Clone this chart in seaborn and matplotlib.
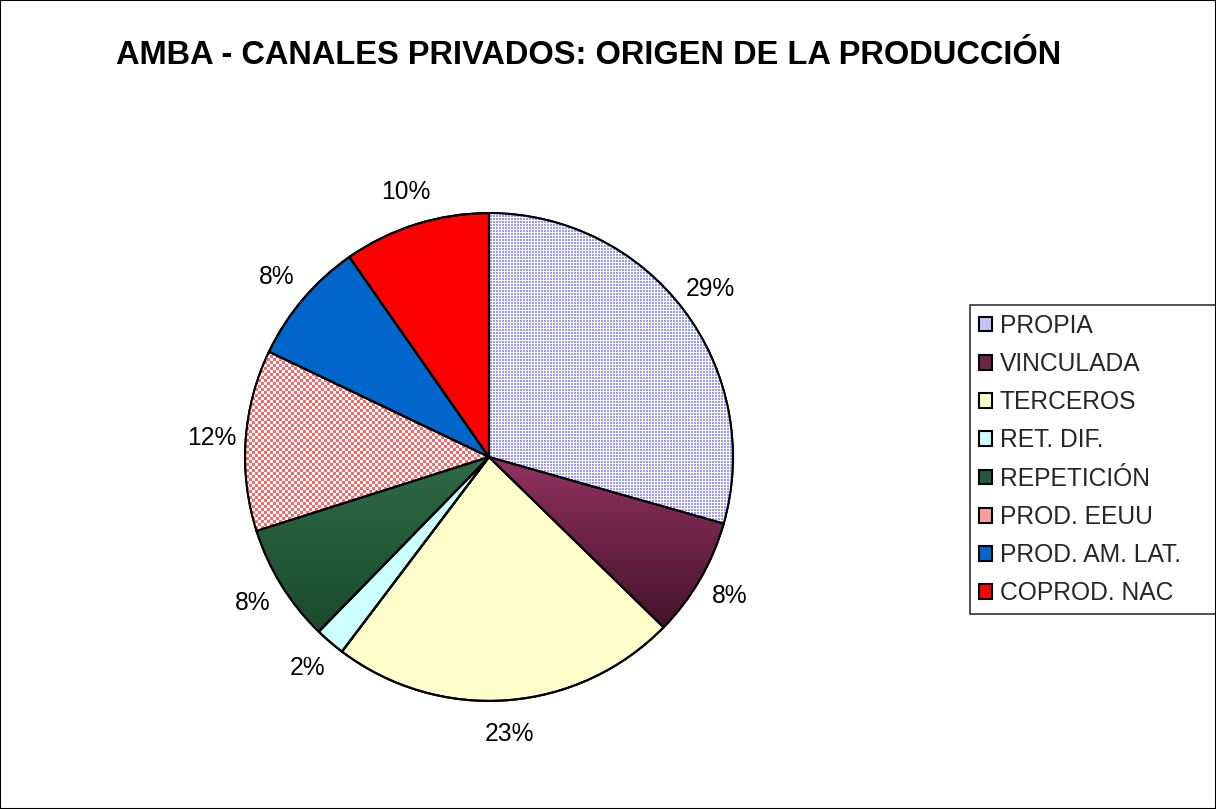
import numpy as np
import matplotlib
matplotlib.use('Agg')
import matplotlib.pyplot as plt
import matplotlib.colors as mcolors
import seaborn as sns
from matplotlib.patches import Rectangle

# datos (porcentaje de la produccion)
categorias = ['PROPIA', 'VINCULADA', 'TERCEROS', 'RET. DIF.', 'REPETICIÓN',
              'PROD. EEUU', 'PROD. AM. LAT.', 'COPROD. NAC']
valores = [29.4, 7.9, 23.0, 2.0, 7.8, 12.0, 8.2, 9.7]
colores = ['#c4c4fc', '#6e2448', '#ffffcc', '#ccffff', '#24593a',
           '#ff9c9c', '#0066cc', '#ff0000']
titulo = 'AMBA - CANALES PRIVADOS: ORIGEN DE LA PRODUCCIÓN'

sns.set_theme(style='white')
plt.rcParams['font.family'] = ['Liberation Sans', 'DejaVu Sans']

W, H = 1216, 809
fig = plt.figure(figsize=(W / 100, H / 100), dpi=100)
fig.patch.set_facecolor('white')
ax = fig.add_axes([(489 - 300) / W, (H - 457 - 300) / H, 600 / W, 600 / H])

wedges, textos, pcts = ax.pie(
    valores, colors=colores, startangle=90, counterclock=False,
    autopct='%1.0f%%', pctdistance=1.14,
    wedgeprops=dict(edgecolor='black', linewidth=1.5),
    textprops=dict(fontsize=17.7, color='black'))

lim = 1.23
ext_all = [-lim, lim, -lim, lim]

# texturas: cuadriculado para PROPIA y PROD. EEUU
n = 600
ii, jj = np.indices((n, n))
blanco = np.array([1.0, 1.0, 1.0])

def textura(mask, color):
    c = np.array(mcolors.to_rgb(color))
    return np.where(mask[..., None], blanco, c)

tex_propia = textura((ii % 3 == 0) | (jj % 3 == 0), '#9999ff')
tex_eeuu = textura(((ii // 3 + jj // 3) % 2) == 0, '#ff6666')

for idx, tex in [(0, tex_propia), (5, tex_eeuu)]:
    im = ax.imshow(tex, extent=ext_all, interpolation='nearest', zorder=1.5)
    im.set_clip_path(wedges[idx])

# degradado vertical para VINCULADA
ext = wedges[1].get_path().get_extents()
t = np.linspace(0, 1, 256)[:, None, None]
c_top = np.array(mcolors.to_rgb('#933262'))
c_bot = np.array(mcolors.to_rgb('#45132b'))
grad = c_top * (1 - t) + c_bot * t
grad = np.repeat(grad, 2, axis=1)
im = ax.imshow(grad, extent=[ext.x0, ext.x1, ext.y0, ext.y1], origin='upper',
               aspect='auto', interpolation='bilinear', zorder=1.5)
im.set_clip_path(wedges[1])

# degradado suave para REPETICIÓN
ext = wedges[4].get_path().get_extents()
c_a = np.array(mcolors.to_rgb('#2f6a45'))
c_b = np.array(mcolors.to_rgb('#1a4a2c'))
grad2 = c_a * (1 - t) + c_b * t
grad2 = np.repeat(grad2, 2, axis=1)
im = ax.imshow(grad2, extent=[ext.x0, ext.x1, ext.y0, ext.y1], origin='upper',
               aspect='auto', interpolation='bilinear', zorder=1.5)
im.set_clip_path(wedges[4])

# contornos encima de las texturas
bordes, _ = ax.pie(valores, startangle=90, counterclock=False,
                   colors=['none'] * len(valores),
                   wedgeprops=dict(edgecolor='black', linewidth=1.5, fill=False))
for b in bordes:
    b.set_zorder(2)

ax.set_xlim(-lim, lim)
ax.set_ylim(-lim, lim)
ax.set_aspect('equal')
ax.axis('off')

# leyenda: el recuadro se sale por el borde derecho como en el original
leg = ax.legend(wedges, categorias, loc='upper left', mode='expand',
                bbox_to_anchor=(970 / W, 0, 270 / W, 1 - 305 / H),
                bbox_transform=fig.transFigure,
                fontsize=17.7, frameon=True, fancybox=False, edgecolor='#333333',
                framealpha=1, handlelength=0.55, handleheight=0.55,
                handletextpad=0.3, labelspacing=0.58, borderpad=0.35,
                borderaxespad=0)
leg.get_frame().set_linewidth(1.2)

fig.text(589 / W, 1 - 56 / H, titulo, ha='center', va='center',
         fontsize=23.5, fontweight='bold', color='black')

fig.add_artist(Rectangle((0, 0), 1, 1, transform=fig.transFigure, fill=False,
                         edgecolor='black', linewidth=1.5))

fig.savefig('out.png', dpi=100)
